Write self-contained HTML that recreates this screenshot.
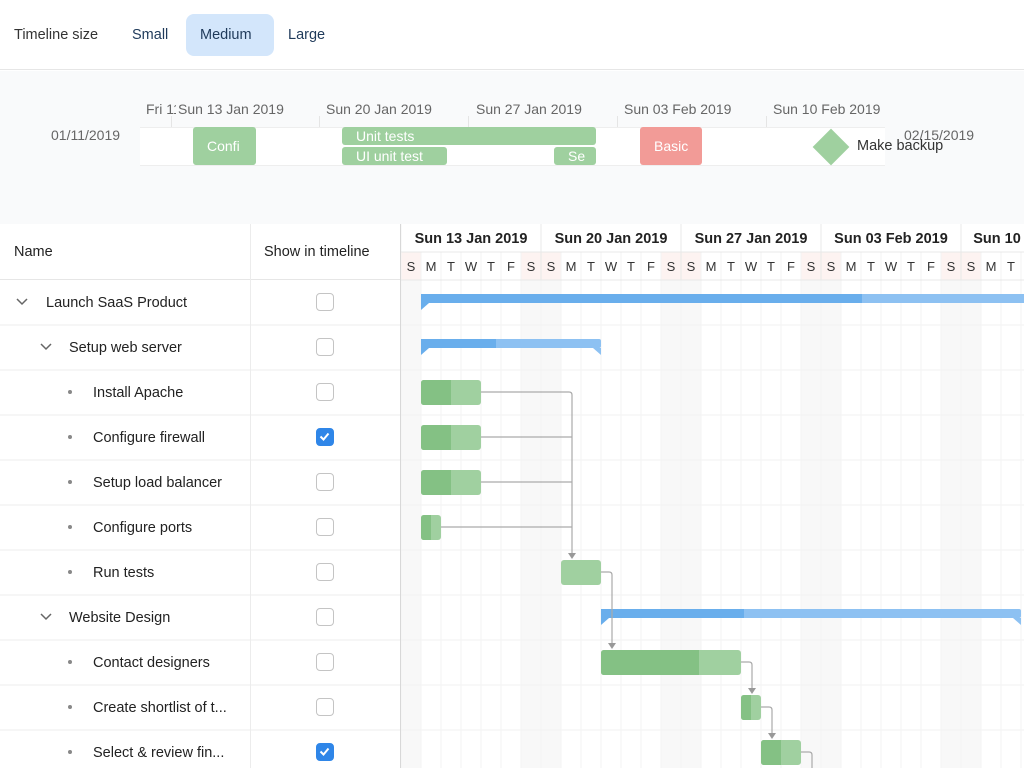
<!DOCTYPE html>
<html><head><meta charset="utf-8"><style>
*{margin:0;padding:0;box-sizing:border-box}
body{width:1024px;height:768px;overflow:hidden;background:#fff;font-family:"Liberation Sans",sans-serif;color:#222;position:relative}
.a{position:absolute;white-space:nowrap}
.cb{position:absolute;left:316px;width:18px;height:18px;border:1.5px solid #c4c4c4;border-radius:4px;background:#fff}
.cb.on{background:#2f86e8;border-color:#2f86e8}
.t{font-size:14.5px;color:#222}
</style></head><body>
<div class="a" style="left:0;top:0;width:1024px;height:70px;background:#fff;border-bottom:1px solid #e6e6e6"></div>
<div class="a t" style="left:14px;top:27px;color:#333">Timeline size</div>
<div class="a t" style="left:132px;top:27px;color:#1f3a5a">Small</div>
<div class="a" style="left:186px;top:14px;width:88px;height:42px;background:#d3e6fb;border-radius:8px"></div>
<div class="a t" style="left:200px;top:27px;color:#1f3a5a">Medium</div>
<div class="a t" style="left:288px;top:27px;color:#1f3a5a">Large</div>
<div class="a" style="left:0;top:71px;width:1024px;height:153px;background:#f9fafb"></div>
<div class="a" style="left:140px;top:127px;width:745px;height:39px;background:#fff;border-top:1px solid #eee;border-bottom:1px solid #eee"></div>
<div class="a" style="left:140px;top:96px;width:745px;height:22px;overflow:hidden;font-size:14px;color:#666">
<span class="a" style="left:6px;top:5px;width:30px;overflow:hidden">Fri 11</span><span class="a" style="left:38px;top:5px">Sun 13 Jan 2019</span><span class="a" style="left:186px;top:5px">Sun 20 Jan 2019</span><span class="a" style="left:336px;top:5px">Sun 27 Jan 2019</span><span class="a" style="left:484px;top:5px">Sun 03 Feb 2019</span><span class="a" style="left:633px;top:5px">Sun 10 Feb 2019</span></div>
<div class="a" style="left:171px;top:116px;width:1px;height:11px;background:#e5e5e5"></div>
<div class="a" style="left:319px;top:116px;width:1px;height:11px;background:#e5e5e5"></div>
<div class="a" style="left:468px;top:116px;width:1px;height:11px;background:#e5e5e5"></div>
<div class="a" style="left:617px;top:116px;width:1px;height:11px;background:#e5e5e5"></div>
<div class="a" style="left:766px;top:116px;width:1px;height:11px;background:#e5e5e5"></div>
<div class="a" style="left:51px;top:127px;font-size:14px;color:#666">01/11/2019</div>
<div class="a" style="left:904px;top:127px;font-size:14px;color:#666">02/15/2019</div>
<div class="a" style="left:193px;top:127px;width:63px;height:38px;background:#9fd09f;border-radius:3px;color:#fff;font-size:14px;padding:11px 0 0 14px;overflow:hidden">Confi</div>
<div class="a" style="left:342px;top:127px;width:254px;height:18px;background:#9fd09f;border-radius:3px;color:#fff;font-size:14px;padding:0 0 0 14px;line-height:18px">Unit tests</div>
<div class="a" style="left:342px;top:147px;width:105px;height:18px;background:#9fd09f;border-radius:3px;color:#fff;font-size:14px;padding:0 0 0 14px;line-height:18px">UI unit test</div>
<div class="a" style="left:554px;top:147px;width:42px;height:18px;background:#9fd09f;border-radius:3px;color:#fff;font-size:14px;padding:0 0 0 14px;line-height:18px;overflow:hidden">Se</div>
<div class="a" style="left:640px;top:127px;width:62px;height:38px;background:#f29b97;border-radius:3px;color:#fff;font-size:14px;padding:11px 0 0 14px;overflow:hidden">Basic</div>
<div class="a" style="left:818px;top:134px;width:26px;height:26px;background:#9fd09f;transform:rotate(45deg)"></div>
<div class="a" style="left:857px;top:138px;font-size:14.5px;color:#333">Make backup</div>

<div class="a" style="left:0;top:224px;width:400px;height:56px;border-bottom:1px solid #e6e6e6"></div>
<div class="a" style="left:250px;top:224px;width:1px;height:544px;background:#ececec"></div>
<div class="a" style="left:400px;top:224px;width:1px;height:544px;background:#d8d8d8"></div>
<div class="a t" style="left:14px;top:244px">Name</div>
<div class="a t" style="left:264px;top:244px">Show in timeline</div>

<svg class="a" style="left:0;top:0" width="1024" height="768">
<g font-family="Liberation Sans" font-size="14.5" fill="#222">
<g stroke="#ececec"><line x1="0" y1="325" x2="400" y2="325"/><line x1="0" y1="370" x2="400" y2="370"/><line x1="0" y1="415" x2="400" y2="415"/><line x1="0" y1="460" x2="400" y2="460"/><line x1="0" y1="505" x2="400" y2="505"/><line x1="0" y1="550" x2="400" y2="550"/><line x1="0" y1="595" x2="400" y2="595"/><line x1="0" y1="640" x2="400" y2="640"/><line x1="0" y1="685" x2="400" y2="685"/><line x1="0" y1="730" x2="400" y2="730"/></g>
<g fill="none" stroke="#666" stroke-width="1.5"><path d="M17 299l5 5 5-5"/><path d="M41 344l5 5 5-5"/><path d="M41 614l5 5 5-5"/></g>
<g fill="#888"><circle cx="70" cy="392" r="2"/><circle cx="70" cy="437" r="2"/><circle cx="70" cy="482" r="2"/><circle cx="70" cy="527" r="2"/><circle cx="70" cy="572" r="2"/><circle cx="70" cy="662" r="2"/><circle cx="70" cy="707" r="2"/><circle cx="70" cy="752" r="2"/></g>
<text x="46" y="307">Launch SaaS Product</text>
<text x="69" y="352">Setup web server</text>
<text x="93" y="397">Install Apache</text>
<text x="93" y="442">Configure firewall</text>
<text x="93" y="487">Setup load balancer</text>
<text x="93" y="532">Configure ports</text>
<text x="93" y="577">Run tests</text>
<text x="69" y="622">Website Design</text>
<text x="93" y="667">Contact designers</text>
<text x="93" y="712">Create shortlist of t...</text>
<text x="93" y="757">Select &amp; review fin...</text>
</g>
</svg>
<div class="cb" style="top:293px"></div><div class="cb" style="top:338px"></div><div class="cb" style="top:383px"></div>
<div class="cb on" style="top:428px"><svg width="15" height="15" style="position:absolute;left:0;top:0"><path d="M3.5 7.5l3 3 5-6" stroke="#fff" stroke-width="2" fill="none"/></svg></div>
<div class="cb" style="top:473px"></div><div class="cb" style="top:518px"></div><div class="cb" style="top:563px"></div><div class="cb" style="top:608px"></div><div class="cb" style="top:653px"></div><div class="cb" style="top:698px"></div>
<div class="cb on" style="top:743px"><svg width="15" height="15" style="position:absolute;left:0;top:0"><path d="M3.5 7.5l3 3 5-6" stroke="#fff" stroke-width="2" fill="none"/></svg></div>

<svg class="a" style="left:401px;top:224px" width="623" height="544">
<g fill="#f8f8f8"><rect x="0" y="56" width="20" height="488"/><rect x="120" y="56" width="40" height="488"/><rect x="260" y="56" width="40" height="488"/><rect x="400" y="56" width="40" height="488"/><rect x="540" y="56" width="40" height="488"/></g>
<g fill="#fdf3f1"><rect x="0" y="28" width="20" height="28"/><rect x="120" y="28" width="40" height="28"/><rect x="260" y="28" width="40" height="28"/><rect x="400" y="28" width="40" height="28"/><rect x="540" y="28" width="40" height="28"/></g>
<g stroke="#f3f3f3" id="g"></g>
<g stroke="#e8e8e8"><line x1="0" y1="28" x2="623" y2="28"/><line x1="0" y1="56" x2="623" y2="56"/>
<line x1="140" y1="0" x2="140" y2="56"/><line x1="280" y1="0" x2="280" y2="56"/><line x1="420" y1="0" x2="420" y2="56"/><line x1="560" y1="0" x2="560" y2="56"/></g>
<g font-family="Liberation Sans" font-size="14.5" fill="#222" font-weight="bold" text-anchor="middle">
<text x="70" y="19">Sun 13 Jan 2019</text><text x="210" y="19">Sun 20 Jan 2019</text><text x="350" y="19">Sun 27 Jan 2019</text><text x="490" y="19">Sun 03 Feb 2019</text><text x="596" y="19">Sun 10</text></g>
<g font-family="Liberation Sans" font-size="13" fill="#333" text-anchor="middle" id="d"></g>
<g stroke="#f2f2f2"><line x1="0" y1="101" x2="623" y2="101"/><line x1="0" y1="146" x2="623" y2="146"/><line x1="0" y1="191" x2="623" y2="191"/><line x1="0" y1="236" x2="623" y2="236"/><line x1="0" y1="281" x2="623" y2="281"/><line x1="0" y1="326" x2="623" y2="326"/><line x1="0" y1="371" x2="623" y2="371"/><line x1="0" y1="416" x2="623" y2="416"/><line x1="0" y1="461" x2="623" y2="461"/><line x1="0" y1="506" x2="623" y2="506"/></g>
<rect x="20" y="70" width="603" height="9" fill="#8dc1f2"/><rect x="20" y="70" width="441" height="9" fill="#69aeec"/><path d="M20 79h8l-8 7z" fill="#69aeec"/>
<rect x="20" y="115" width="180" height="9" rx="2" fill="#8dc1f2"/><rect x="20" y="115" width="75" height="9" fill="#69aeec"/><path d="M20 124h8l-8 7z" fill="#69aeec"/><path d="M200 124h-8l8 7z" fill="#8dc1f2"/>
<rect x="200" y="385" width="420" height="9" rx="2" fill="#8dc1f2"/><rect x="200" y="385" width="143" height="9" fill="#69aeec"/><path d="M200 394h8l-8 7z" fill="#69aeec"/><path d="M620 394h-8l8 7z" fill="#8dc1f2"/>
<g fill="none" stroke="#aaa" stroke-width="1.2">
<path d="M80 168h88q3 0 3 3v158"/><path d="M80 213h91"/><path d="M80 258h91"/><path d="M40 303h131"/>
<path d="M200 348h8q3 0 3 3v72"/><path d="M340 438h8q3 0 3 3v24"/><path d="M360 483h8q3 0 3 3v24"/><path d="M400 528h8q3 0 3 3v13"/></g>
<g fill="#999"><path d="M167 329h8l-4 6z"/><path d="M207 419h8l-4 6z"/><path d="M347 464h8l-4 6z"/><path d="M367 509h8l-4 6z"/></g>
<g fill="#a0d0a0"><rect x="20" y="156" width="60" height="25" rx="3"/><rect x="20" y="201" width="60" height="25" rx="3"/><rect x="20" y="246" width="60" height="25" rx="3"/><rect x="20" y="291" width="20" height="25" rx="3"/><rect x="160" y="336" width="40" height="25" rx="3"/><rect x="200" y="426" width="140" height="25" rx="3"/><rect x="340" y="471" width="20" height="25" rx="3"/><rect x="360" y="516" width="40" height="25" rx="3"/></g>
<g fill="#84c184"><path d="M23 156h27v25h-27q-3 0-3-3v-19q0-3 3-3z"/><path d="M23 201h27v25h-27q-3 0-3-3v-19q0-3 3-3z"/><path d="M23 246h27v25h-27q-3 0-3-3v-19q0-3 3-3z"/><path d="M23 291h7v25h-7q-3 0-3-3v-19q0-3 3-3z"/><path d="M203 426h95v25h-95q-3 0-3-3v-19q0-3 3-3z"/><path d="M343 471h7v25h-7q-3 0-3-3v-19q0-3 3-3z"/><path d="M363 516h17v25h-17q-3 0-3-3v-19q0-3 3-3z"/></g>
</svg>
<script>
var g=document.getElementById('g'),d=document.getElementById('d'),L="SMTWTFS",s='',t='';
for(var i=0;i<32;i++){var x=i*20;s+='<line x1="'+x+'" y1="'+(i%7==0?0:28)+'" x2="'+x+'" y2="544"/>';t+='<text x="'+(x+10)+'" y="47">'+L[i%7]+'</text>';}
g.innerHTML=s;d.innerHTML=t;
</script>
</body></html>
